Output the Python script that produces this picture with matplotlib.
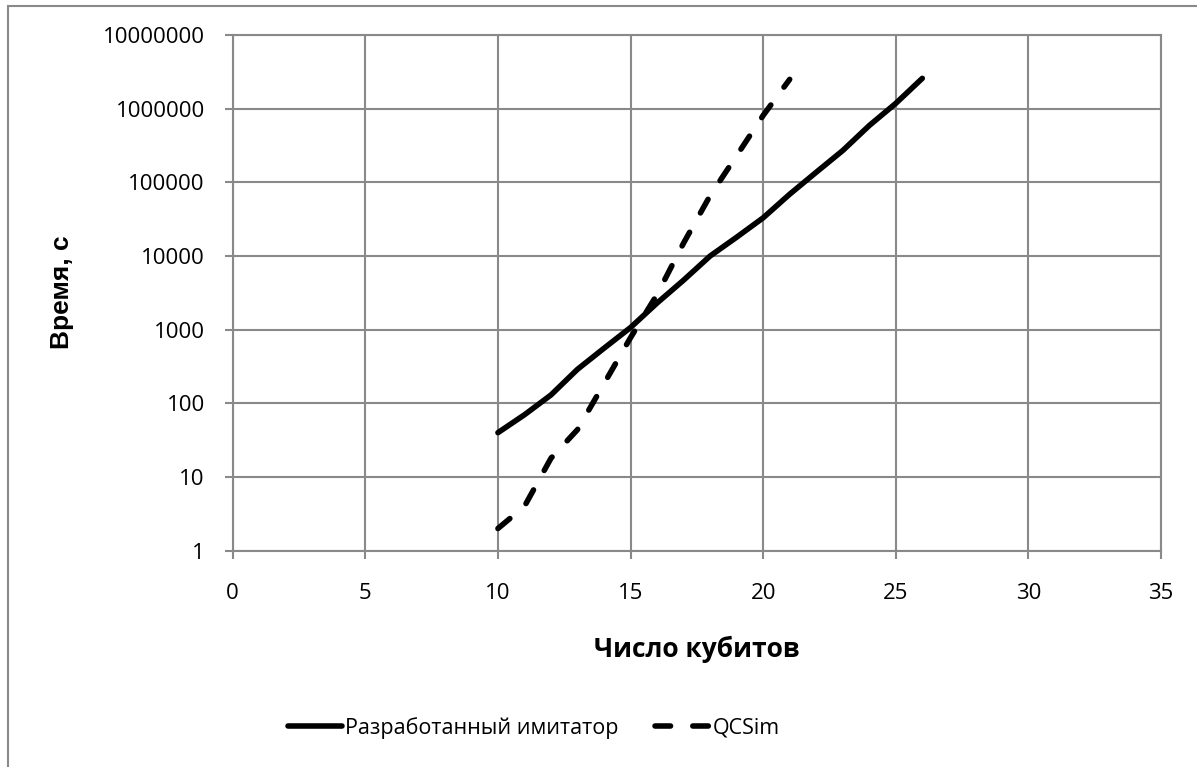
import matplotlib
matplotlib.use("Agg")
import matplotlib.pyplot as plt
from matplotlib.patches import Rectangle

# Data
qubits_dev = [10, 11, 12, 13, 14, 15, 16, 17, 18, 19, 20, 21, 22, 23, 24, 25, 26]
time_dev = [40, 70, 130, 290, 560, 1070, 2300, 4700, 10000, 18000, 33000,
            69000, 137000, 270000, 590000, 1180000, 2580000]
qubits_qcs = [10, 11, 12, 13, 14, 15, 16, 17, 18, 19, 20, 21]
time_qcs = [2, 4, 18, 44, 185, 780, 3000, 15000, 66000, 230000, 810000, 2500000]

x_ticks = [0, 5, 10, 15, 20, 25, 30, 35]
y_ticks = [1, 10, 100, 1000, 10000, 100000, 1000000, 10000000]
y_tick_labels = ["1", "10", "100", "1000", "10000", "100000", "1000000", "10000000"]

label_dev = "Разработанный имитатор"
label_qcs = "QCSim"
x_label = "Число кубитов"
y_label = "Время, с"

plt.rcParams['font.family'] = ['Open Sans', 'DejaVu Sans']
grid_c = '#898989'

fig = plt.figure(figsize=(11.97, 7.67), dpi=100)
fig.patch.set_facecolor('white')

# outer chart-area border (only left and top visible in the reference)
fig.add_artist(Rectangle((8 / 1197, -0.1), 1.2, 1 - 6 / 767 + 0.1,
                         transform=fig.transFigure, fill=False,
                         edgecolor=grid_c, linewidth=1.5))

ax = fig.add_axes([232.7 / 1197, 1 - 550.7 / 767, (1161 - 232.7) / 1197, (550.7 - 35) / 767])
ax.set_yscale('log')
ax.set_xlim(0, 35)
ax.set_ylim(1, 1e7)

ax.plot(qubits_dev, time_dev, color='black', lw=4, solid_capstyle='round',
        solid_joinstyle='round', label=label_dev)
ax.plot(qubits_qcs, time_qcs, color='black', lw=4, linestyle=(0, (2.8, 4.0)),
        dash_capstyle='round', dash_joinstyle='round', label=label_qcs)

ax.set_xticks(x_ticks)
ax.set_xticklabels([str(v) for v in x_ticks])
ax.set_yticks(y_ticks)
ax.set_yticklabels(y_tick_labels)
ax.yaxis.set_minor_locator(matplotlib.ticker.NullLocator())

ax.grid(True, color=grid_c, linewidth=1.5)
ax.set_axisbelow(True)
for s in ax.spines.values():
    s.set_color(grid_c)
    s.set_linewidth(1.5)
ax.tick_params(axis='both', which='major', length=6, width=1.5, color=grid_c,
               labelsize=16, labelcolor='black')
ax.tick_params(axis='y', pad=14)
ax.tick_params(axis='x', pad=17)

ax.set_xlabel(x_label, fontsize=19, fontweight='bold', labelpad=23)
fig.text(62 / 1197, 1 - 292 / 767, y_label, rotation=90, ha='center', va='center',
         fontsize=19, fontweight='bold', family=['Liberation Sans', 'DejaVu Sans'])

h, l = ax.get_legend_handles_labels()
fig.legend(h, l, loc='center', bbox_to_anchor=(534 / 1197, 1 - 728 / 767), ncol=2,
           frameon=False, fontsize=15.5, handlelength=2.5, handletextpad=0.15,
           columnspacing=1.7)

fig.savefig('out.png', dpi=100, facecolor='white')
